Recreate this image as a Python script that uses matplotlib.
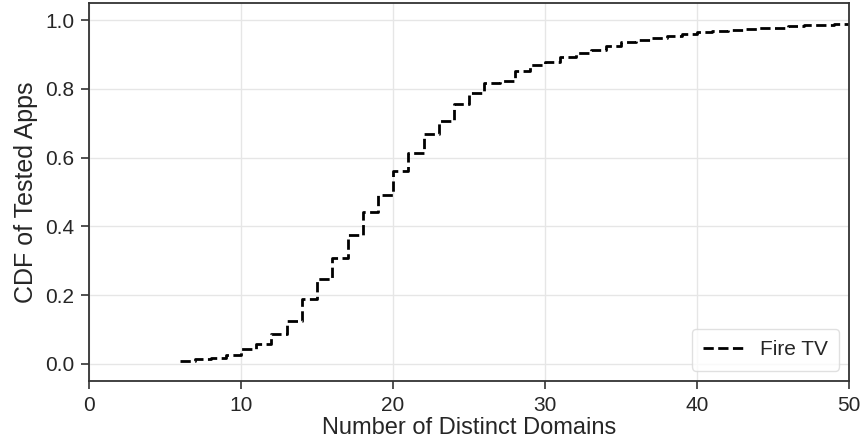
import matplotlib.pyplot as plt
import seaborn as sns

# CDF of distinct domains contacted per app (Fire TV)
domains = [6, 7, 8, 9, 10, 11, 12, 13, 14, 15, 16, 17, 18, 19, 20,
           21, 22, 23, 24, 25, 26, 27, 28, 29, 30, 31, 32, 33, 34, 35,
           36, 37, 38, 39, 40, 41, 42, 43, 44, 45, 46, 47, 48, 49, 50]
cdf = [0.007, 0.014, 0.018, 0.026, 0.043, 0.058, 0.087, 0.124, 0.189, 0.248,
       0.307, 0.375, 0.442, 0.491, 0.560, 0.614, 0.668, 0.708, 0.755, 0.789,
       0.816, 0.822, 0.852, 0.871, 0.878, 0.892, 0.904, 0.913, 0.926, 0.937,
       0.944, 0.949, 0.955, 0.961, 0.966, 0.970, 0.973, 0.974, 0.977, 0.978,
       0.982, 0.985, 0.986, 0.988, 0.988]

sns.set_style("ticks")
plt.rcParams['font.family'] = ['Liberation Sans', 'DejaVu Sans']

fig, ax = plt.subplots(figsize=(8.64, 4.44), dpi=100)
fig.subplots_adjust(left=0.103, right=0.983, top=0.993, bottom=0.142)

ax.step(domains, cdf, where='post', linestyle='--', color='black',
        linewidth=2, label='Fire TV')

ax.set_xlim(0, 50)
ax.set_ylim(-0.05, 1.05)
ax.set_xticks([0, 10, 20, 30, 40, 50])
ax.set_yticks([0.0, 0.2, 0.4, 0.6, 0.8, 1.0])
ax.grid(True, color='#e6e6e6', linewidth=1)
ax.set_axisbelow(True)

for sp in ax.spines.values():
    sp.set_color('#333333')
    sp.set_linewidth(1.3)
ax.tick_params(labelsize=15, colors='#333333', length=6, width=1.2,
               pad=4.5, labelcolor='#262626')

ax.set_xlabel('Number of Distinct Domains', fontsize=17, color='#262626',
              labelpad=2)
ax.set_ylabel('CDF of Tested Apps', fontsize=18, color='#262626',
              labelpad=5)

ax.legend(loc='lower right', fontsize=15, frameon=True, fancybox=True,
          edgecolor='#d9d9d9', handlelength=1.9, borderpad=0.55)

plt.savefig('out.png', dpi=100)
